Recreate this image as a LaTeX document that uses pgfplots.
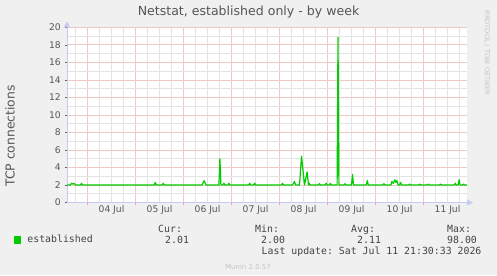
\documentclass[border=0pt]{standalone}
\usepackage{fontspec}
\setmainfont{DejaVu Sans}
\setmonofont{DejaVu Sans Mono}
\usepackage{pgfplots}
\pgfplotsset{compat=1.18}
\usetikzlibrary{arrows.meta}
\definecolor{bg}{HTML}{F0F0F0}
\definecolor{txt}{HTML}{555555}
\definecolor{ltxt}{HTML}{444444}
\definecolor{mgrid}{HTML}{F1C8C8}
\definecolor{ngrid}{HTML}{E4E4E4}
\definecolor{axl}{HTML}{C4CAF2}
\definecolor{lgreen}{HTML}{00CC00}
\definecolor{wm}{HTML}{C4C4C4}
\begin{document}
\begin{tikzpicture}[x=1bp,y=1bp]
\fill[bg] (0,0) rectangle (497,275);
\useasboundingbox (0,0) rectangle (497,275);
\begin{axis}[
  at={(67bp,72.5bp)}, anchor=south west,
  scale only axis, width=400bp, height=175bp,
  xmin=-10.25, xmax=189.75, ymin=0, ymax=20,
  axis background/.style={fill=white},
  axis lines=left,
  axis line style={axl, line width=1bp, shorten >=-6bp, -{Triangle[width=6bp,length=6bp]}},
  xtick={-24,0,24,...,192}, xticklabels={},
  minor x tick num=3,
  ytick={0,2,...,20}, minor y tick num=1,
  grid=both,
  major grid style={draw=mgrid, line width=1bp},
  minor grid style={draw=ngrid, line width=1bp},
  tick align=outside, major tick length=2.5bp, minor tick length=0pt,
  x tick style={draw=mgrid!80!red, line width=1bp},
  y tick style={black!60, line width=0.8bp},
  /pgf/number format/assume math mode=true,
  yticklabel style={font=\fontsize{9.2}{9.2}\selectfont, text=txt, inner sep=3.5bp},
  extra x ticks={12,36,...,180},
  extra x tick labels={04 Jul,05 Jul,06 Jul,07 Jul,08 Jul,09 Jul,10 Jul,11 Jul},
  extra x tick style={grid=none, major tick length=0pt,
    tick label style={font=\fontsize{9.2}{9.2}\selectfont, text=txt, inner sep=2bp, yshift=-1bp}},
  title={Netstat, established only - by week},
  title style={at={(axis description cs:0.4538,1)}, anchor=base, yshift=6bp,
    font=\fontsize{12.6}{12.6}\selectfont, text=txt},
  ylabel={TCP connections},
  ylabel style={at={(axis description cs:-0.1425,0.38)}, anchor=center,
    font=\fontsize{12.4}{12.4}\selectfont, text=txt},
  legend style={at={(axis description cs:-0.1325,-0.214)}, anchor=west,
    draw=none, fill=none, inner sep=0pt,
    font=\ttfamily\fontsize{9.9}{9.9}\selectfont, text=ltxt,
    nodes={inner sep=0pt}},
  legend image code/.code={\fill[lgreen] (0bp,-3bp) rectangle (6bp,3bp);},
]
\addplot[lgreen, line width=1.2bp, line join=round] coordinates {
(-10.25,2.0) (-8.5,2.0) (-8.0,2.2) (-7.5,2.1) (-6.8,2.2) (-6.0,2.0)
(-3.5,2.0) (-3.0,2.2) (-2.5,2.0)
(33.4,2.0) (33.9,2.3) (34.4,2.0)
(37.4,2.0) (37.9,2.2) (38.4,2.0)
(57.3,2.0) (58.3,2.5) (59.3,2.0)
(65.7,2.0) (66.2,5.0) (66.7,2.0)
(67.7,2.0) (68.2,2.2) (68.7,2.0)
(70.2,2.0) (70.7,2.2) (71.2,2.0)
(80.6,2.0) (81.1,2.2) (81.6,2.0)
(83.1,2.0) (83.6,2.2) (84.1,2.0)
(97.0,2.0) (97.5,2.2) (98.0,2.0)
(102.5,2.0) (103.5,2.4) (104.0,2.0)
(106.0,2.0) (107.0,5.3) (108.5,2.0) (109.8,3.5) (110.5,2.0)
(110.8,2.2) (111.3,2.0)
(115.5,2.0) (116.0,2.15) (116.5,2.0)
(118.8,2.0) (119.3,2.2) (119.8,2.0)
(121.0,2.0) (121.4,2.2) (121.9,2.0)
(124.8,2.0) (125.25,18.9) (125.7,2.0)
(128.2,2.0) (128.7,2.15) (129.2,2.0)
(132.0,2.0) (132.5,3.2) (133.0,2.0)
(139.4,2.0) (139.9,2.5) (140.4,2.0)
(147.7,2.0) (148.2,2.15) (148.7,2.0)
(151.7,2.0) (152.2,2.4) (152.9,2.2) (153.7,2.6) (154.2,2.3) (154.7,2.5) (155.3,2.0)
(156.0,2.0) (156.5,2.3) (157.0,2.0)
(160.6,2.0) (161.1,2.1) (161.6,2.0)
(165.6,2.0) (166.1,2.1) (166.6,2.0)
(170.0,2.0) (170.5,2.1) (171.0,2.0)
(176.0,2.0) (176.5,2.1) (177.0,2.0)
(183.4,2.0) (183.9,2.2) (184.4,2.0)
(185.3,2.0) (185.8,2.6) (186.3,2.0)
(187.5,2.0) (188.0,2.1) (188.5,2.0) (189.75,2.01)
};
\addlegendentry{\hspace{6bp}established}
\end{axis}
\begin{scope}[every node/.style={inner sep=0pt, anchor=base west, font=\ttfamily\fontsize{9.9}{9.9}\selectfont, text=ltxt}]
\node at (158,43) {Cur:};
\node at (165,31.5) {2.01};
\node at (255,43) {Min:};
\node at (261,31.5) {2.00};
\node at (351,43) {Avg:};
\node at (357,31.5) {2.11};
\node at (447,43) {Max:};
\node at (447,31.5) {98.00};
\node at (261.5,20.5) {Last update: Sat Jul 11 21:30:33 2026};
\end{scope}
\node[inner sep=0pt, anchor=base, font=\fontsize{7}{7}\selectfont, text=wm] at (248,6) {Munin 2.0.57};
\node[inner sep=0pt, anchor=center, rotate=-90, font=\fontsize{6.6}{6.6}\selectfont, text=wm] at (487,222) {RRDTOOL / TOBI OETIKER};
\end{tikzpicture}
\end{document}
